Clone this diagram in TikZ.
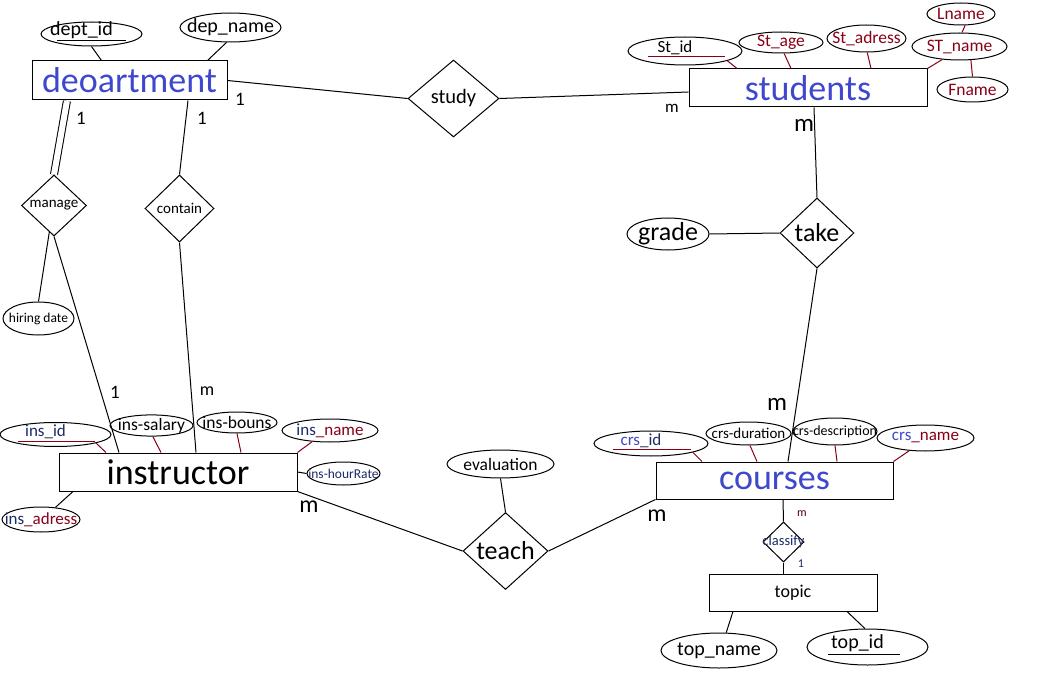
\documentclass[tikz,border=0pt]{standalone}
\usepackage{fontspec}
\setmainfont{Carlito}
\usepackage{tikz}
\usetikzlibrary{shapes.geometric}
\definecolor{paintblue}{HTML}{3F48CC}
\definecolor{darkred}{HTML}{880015}
\definecolor{navy}{HTML}{1C2A66}
\newcommand{\fsz}[1]{\fontsize{#1}{#1}\selectfont}
\tikzset{
  entitybox/.style={draw, rectangle, inner sep=0pt},
  attrshape/.style={draw, ellipse, inner sep=0pt},
  attrnode/.style={attrshape, execute at begin node={\hbox to 0pt\bgroup\hss}, execute at end node={\hss\egroup}},
  keynode/.style={attrshape, text height=9pt, text depth=6pt, execute at begin node={\hbox to 0pt\bgroup\hss}, execute at end node={\kern20pt\hss\egroup}},
  relnode/.style={draw, diamond, inner sep=0pt, execute at begin node={\hbox to 0pt\bgroup\hss}, execute at end node={\hss\egroup}},
  cardlabel/.style={inner sep=0pt},
  attrline/.style={draw=darkred},
  keyline/.style={draw=darkred}
}

\begin{document}
\begin{tikzpicture}[x=1pt, y=-1pt, line width=1pt]
  \useasboundingbox (0,0) rectangle (1053,674);
  % entities
  \node[entitybox, minimum width=195pt, minimum height=39pt, font=\fsz{36}, text=paintblue] (dept) at (129.5,80.5) {deoartment};
  \node[entitybox, minimum width=238pt, minimum height=38pt, font=\fsz{36}, text=paintblue] (students) at (808,88) {students};
  \node[entitybox, minimum width=238pt, minimum height=38pt, font=\fsz{36}] (instructor) at (178,472) {instructor};
  \node[entitybox, minimum width=237pt, minimum height=37pt, font=\fsz{36}, text=paintblue] (courses) at (774.5,480.5) {courses};
  \node[entitybox, minimum width=168pt, minimum height=37pt, font=\fsz{18}] (topic) at (793,592.5) {topic};
  % relationships
  \node[relnode, minimum width=91pt, minimum height=77pt, font=\fsz{20.5}] (study) at (453.5,98.5) {study};
  \node[relnode, minimum width=74pt, minimum height=70pt, font=\fsz{26}] (take) at (817,233) {take};
  \node[relnode, minimum width=85pt, minimum height=77pt, font=\fsz{26}] (teach) at (505.5,551) {teach};
  \node[relnode, minimum width=65pt, minimum height=61pt, font=\fsz{15}] (manage) at (54,205.5) {manage};
  \node[relnode, minimum width=69pt, minimum height=67pt, font=\fsz{15}] (contain) at (179.5,208.5) {contain};
  \node[relnode, minimum width=41pt, minimum height=40pt, font=\fsz{14.5}, text=navy] (classify) at (783.5,542) {classify};
  % attributes of deoartment
  \node[keynode, minimum width=101pt, minimum height=24pt, font=\fsz{20}] (depid) at (91.5,34) {dept\_id};
  \node[attrnode, minimum width=101pt, minimum height=29pt, font=\fsz{20}] (depname) at (230.5,27.5) {dep\_name};
  % attributes of students
  \node[keynode, minimum width=114pt, minimum height=28pt, font=\fsz{17}] (stid) at (685,51) {St\_id};
  \node[attrnode, minimum width=84pt, minimum height=21pt, font=\fsz{17.5}, text=darkred] (stage) at (781,42.5) {St\_age};
  \node[attrnode, minimum width=79pt, minimum height=27pt, font=\fsz{17.5}, text=darkred] (stadress) at (866.5,38.5) {St\_adress};
  \node[attrnode, minimum width=95pt, minimum height=27pt, font=\fsz{17.5}, text=darkred] (stname) at (959.5,46.5) {ST\_name};
  \node[attrnode, minimum width=68pt, minimum height=22pt, font=\fsz{17.5}, text=darkred] (lname) at (961,14) {Lname};
  \node[attrnode, minimum width=71pt, minimum height=25pt, font=\fsz{17.5}, text=darkred] (fname) at (972.5,89.5) {Fname};
  \node[attrnode, minimum width=82pt, minimum height=32pt, font=\fsz{26}] (grade) at (668,234) {grade};
  % attributes of courses and topic
  \node[keynode, minimum width=114pt, minimum height=25pt, font=\fsz{17}, text=navy] (crsid) at (651,443.5) {\textcolor{paintblue}{crs}\_id};
  \node[attrnode, minimum width=85pt, minimum height=23pt, font=\fsz{15}] (crsduration) at (748.5,433.5) {crs-duration};
  \node[attrnode, minimum width=84pt, minimum height=27pt, font=\fsz{14}] (crsdesc) at (835,431.5) {crs-description};
  \node[attrnode, minimum width=97pt, minimum height=26pt, font=\fsz{17}, text=paintblue] (crsname) at (925.5,438) {crs\textcolor{darkred}{\_name}};
  \node[attrnode, minimum width=116pt, minimum height=35pt, font=\fsz{20}] (topname) at (719,650.5) {top\_name};
  \node[keynode, minimum width=121pt, minimum height=36pt, font=\fsz{20}] (topid) at (867.5,647) {top\_id};
  \node[attrnode, minimum width=107pt, minimum height=28pt, font=\fsz{17.5}] (evaluation) at (500.5,464) {evaluation};
  % attributes of instructor
  \node[keynode, minimum width=111pt, minimum height=24pt, font=\fsz{17}, text=navy] (insid) at (55.5,434.5) {ins\_id};
  \node[attrnode, minimum width=83pt, minimum height=21pt, font=\fsz{17.5}] (inssalary) at (151.5,425.5) {ins-salary};
  \node[attrnode, minimum width=80pt, minimum height=21pt, font=\fsz{17.5}] (insbouns) at (237,422.5) {ins-bouns};
  \node[attrnode, minimum width=96pt, minimum height=23pt, font=\fsz{17}, text=navy] (insname) at (330,430.5) {ins\textcolor{darkred}{\_name}};
  \node[attrnode, minimum width=73pt, minimum height=23pt, font=\fsz{13.5}, text=navy] (inshour) at (343.5,473.5) {ins-hourRate};
  \node[attrnode, minimum width=78pt, minimum height=25pt, font=\fsz{17}, text=navy] (insadress) at (41,519.5) {ins\textcolor{darkred}{\_adress}};
  \node[attrnode, minimum width=71pt, minimum height=33pt, font=\fsz{13.5}] (hiring) at (38.5,318.5) {hiring date};
  % key underlines
  \draw ([shift={(-34.5,6.7)}]depid.center) -- ([shift={(34.5,6.7)}]depid.center);
  \draw[keyline] ([shift={(-37,6)}]stid.center) -- ([shift={(40,6)}]stid.center);
  \draw[keyline] ([shift={(-38,5.5)}]crsid.center) -- ([shift={(40,5.5)}]crsid.center);
  \draw[keyline] ([shift={(-37.5,6.5)}]insid.center) -- ([shift={(39.5,6.5)}]insid.center);
  \draw ([shift={(-39.5,7)}]topid.center) -- ([shift={(32.5,7)}]topid.center);
  % attribute links
  \draw (depid.south) -- ([xshift=-28pt]dept.north);
  \draw (depname.-105) -- ([xshift=78pt]dept.north);
  \draw[attrline] (stid.-13) -- ([xshift=-71pt]students.north);
  \draw[attrline] (stage.-74) -- ([xshift=-17pt]students.north);
  \draw[attrline] (stadress.-87) -- ([xshift=63pt]students.north);
  \draw[attrline] (stname.-143) -- (students.north east);
  \draw[attrline] (lname.-70) -- (stname.80);
  \draw[attrline] (stname.-50) -- (fname.north);
  \draw (grade.east) -- (take.west);
  \draw[attrline] (crsid.-12) -- ([xshift=-72.5pt]courses.north);
  \draw[attrline] (crsduration.-83) -- ([xshift=-17.5pt]courses.north);
  \draw[attrline] (crsdesc.south) -- ([xshift=62.5pt]courses.north);
  \draw[attrline] (crsname.-142) -- (courses.north east);
  \draw ([xshift=-60pt]topic.south) -- (topname.68);
  \draw ([xshift=54pt]topic.south) -- (topid.98);
  \draw (evaluation.south) -- (teach.north);
  \draw[attrline] (insid.-12) -- ([xshift=-72pt]instructor.north);
  \draw[attrline] (inssalary.-83) -- ([xshift=-17pt]instructor.north);
  \draw[attrline] (insbouns.south) -- ([xshift=63pt]instructor.north);
  \draw[attrline] (insname.-148) -- (instructor.north east);
  \draw (instructor.east) -- (inshour.west);
  \draw ([xshift=-105pt]instructor.south) -- (insadress.40);
  \draw (manage.-100) -- (hiring.north);
  % relationship links
  \draw (dept.east) -- (study.west);
  \draw (study.east) -- ([yshift=-4pt]students.west);
  \draw ([xshift=6pt]students.south) -- (take.north);
  \draw (take.south) -- ([xshift=13.5pt]courses.north);
  \draw ([xshift=8.5pt]courses.south) -- (classify.north);
  \draw (classify.south) -- (classify.south |- topic.north);
  \draw (courses.south west) -- (teach.east);
  \draw (instructor.south east) -- (teach.west);
  \draw[double, double distance=6pt, shorten <=0.5pt] ([xshift=-62.5pt]dept.south) -- (manage.north);
  \draw (manage.south) -- ([xshift=-59pt]instructor.north);
  \draw ([xshift=58.5pt]dept.south) -- (contain.north);
  \draw (contain.south) -- ([xshift=18pt]instructor.north);
  % cardinalities
  \node[cardlabel, font=\fsz{19}] (c1) at (240,99) {1};
  \node[cardlabel, font=\fsz{17}] (c2) at (672,108) {m};
  \node[cardlabel, font=\fsz{25}] (c3) at (804,125) {m};
  \node[cardlabel, font=\fsz{25}] (c4) at (777,404) {m};
  \node[cardlabel, font=\fsz{19}] (c5) at (81,118) {1};
  \node[cardlabel, font=\fsz{19}] (c6) at (202,118) {1};
  \node[cardlabel, font=\fsz{19}] (c7) at (115,392) {1};
  \node[cardlabel, font=\fsz{18}] (c8) at (207,391) {m};
  \node[cardlabel, font=\fsz{24}] (c9) at (309,507) {m};
  \node[cardlabel, font=\fsz{24}] (c10) at (657,516) {m};
  \node[cardlabel, font=\fsz{12}, text=darkred!60!black] (c11) at (802,514) {m};
  \node[cardlabel, font=\fsz{12}, text=navy] (c12) at (801,564) {1};
\end{tikzpicture}
\end{document}
